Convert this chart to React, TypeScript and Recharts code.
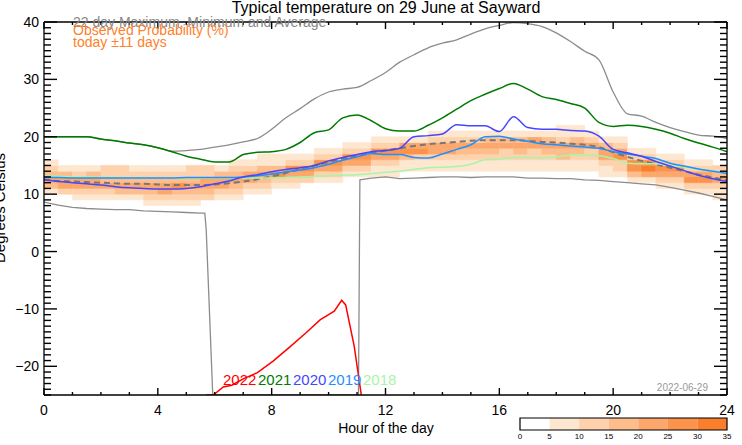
import { ComposedChart, Line, XAxis, YAxis, ReferenceArea } from "recharts"

// half-hour grid shared by most series
const hours = [
  0, 0.5, 1, 1.5, 2, 2.5, 3, 3.5, 4, 4.5, 5, 5.5, 6, 6.5, 7, 7.5, 8, 8.5, 9, 9.5, 10, 10.5, 11, 11.5,
  12, 12.5, 13, 13.5, 14, 14.5, 15, 15.5, 16, 16.5, 17, 17.5, 18, 18.5, 19, 19.5, 20, 20.5, 21, 21.5,
  22, 22.5, 23, 23.5, 24,
]

const maxTemp = [
  20.0, 20.0, 20.0, 20.0, 19.6, 19.3, 18.9, 18.6, 18.1, 17.5, 17.6, 17.8, 18.2, 18.6, 19.1, 19.7, 21.3,
  23.3, 24.9, 26.6, 27.8, 28.3, 28.6, 29.8, 31.2, 33.0, 34.3, 35.5, 36.3, 36.9, 37.9, 38.8, 39.4, 39.9,
  39.7, 39.2, 38.1, 36.6, 34.9, 33.4, 27.8, 24.0, 23.6, 22.5, 21.6, 20.9, 20.3, 20.1, 19.7,
]

const avgTemp = [
  12.5, 12.3, 12.2, 12.1, 12.0, 11.9, 11.8, 11.8, 11.7, 11.6, 11.6, 11.6, 11.7, 11.9, 12.2, 12.6, 13.1,
  13.7, 14.4, 15.0, 15.6, 16.2, 16.7, 17.2, 17.6, 18.0, 18.4, 18.7, 18.9, 19.1, 19.3, 19.4, 19.4, 19.4,
  19.3, 19.1, 19.0, 18.8, 18.6, 18.2, 17.3, 16.5, 15.8, 15.2, 14.6, 14.0, 13.4, 12.9, 12.4,
]

const temp2021 = [
  20.0, 20.0, 20.0, 20.0, 19.6, 19.3, 18.9, 18.6, 18.1, 17.4, 16.6, 16.1, 15.6, 15.6, 16.9, 17.3, 17.4,
  17.8, 19.0, 20.7, 21.2, 23.3, 23.8, 22.8, 21.4, 21.0, 21.0, 22.0, 23.3, 24.8, 26.3, 27.4, 28.4, 29.3,
  28.3, 27.0, 26.5, 25.8, 25.0, 22.5, 21.8, 22.0, 21.8, 21.3, 20.6, 19.7, 18.9, 18.2, 17.4,
]

const temp2020 = [
  12.5, 12.2, 12.0, 11.8, 11.6, 11.3, 11.1, 11.0, 10.9, 10.9, 11.0, 11.3, 11.8, 12.3, 13.0, 13.4, 13.9,
  14.3, 14.6, 15.0, 15.8, 16.4, 16.9, 17.4, 17.6, 18.0, 20.0, 20.2, 20.5, 22.1, 21.9, 21.9, 20.9, 23.5,
  21.6, 21.3, 21.3, 21.1, 21.0, 20.1, 17.8, 17.2, 16.6, 15.7, 14.9, 14.1, 13.3, 12.7, 12.2,
]

const temp2019 = [
  12.9, 12.9, 12.8, 12.8, 12.8, 12.8, 12.8, 12.8, 12.8, 12.8, 12.9, 12.9, 12.9, 12.9, 13.0, 13.2, 13.5,
  13.9, 14.2, 14.6, 15.2, 15.9, 16.5, 17.1, 16.9, 16.9, 16.4, 16.3, 17.0, 17.8, 18.6, 20.0, 20.1, 19.6,
  19.2, 18.8, 18.6, 18.4, 18.2, 18.0, 17.4, 17.0, 16.6, 16.2, 15.4, 14.9, 14.4, 14.0, 13.6,
]

const temp2018 = [
  13.2, 13.1, 13.0, 13.0, 12.9, 12.9, 12.8, 12.8, 12.8, 12.8, 12.8, 12.8, 12.8, 12.8, 12.8, 12.8, 12.8,
  12.9, 13.0, 13.1, 13.2, 13.3, 13.4, 13.6, 13.8, 14.0, 14.3, 14.6, 14.7, 14.8, 15.2, 16.0, 16.1, 16.4,
  16.4, 16.3, 16.5, 16.8, 16.8, 16.7, 16.2, 15.4, 15.3, 15.3, 15.0, 14.7, 14.4, 14.1, 13.5,
]

// the minimum has a gap of bad readings that runs off the bottom of the axis
const minHours = [
  0, 0.5, 1, 1.5, 2, 2.5, 3, 3.5, 4, 4.5, 5, 5.5, 5.65, 5.7, 5.93, 11.05, 11.1, 11.5, 12, 12.5, 13, 13.5,
  14, 14.5, 15, 15.5, 16, 16.5, 17, 17.5, 18, 18.5, 19, 19.5, 20, 20.5, 21, 21.5, 22, 22.5, 23, 23.5, 24,
]
const minTemp = [
  8.6, 8.1, 7.7, 7.5, 7.4, 7.3, 7.3, 7.1, 7.0, 6.9, 6.8, 6.7, 6.7, 3.8, -25, -25, 12.5, 12.8, 13.0, 12.7,
  12.8, 12.9, 13.0, 13.0, 12.9, 13.0, 13.0, 13.0, 12.8, 12.8, 12.7, 12.7, 12.5, 12.4, 12.2, 12.0, 11.8,
  11.6, 11.2, 10.7, 10.2, 9.6, 9.0,
]

const hours2022 = [5.7, 5.95, 6.3, 6.6, 7.0, 7.5, 8.05, 8.6, 9.2, 9.7, 10.2, 10.46, 10.6, 10.9, 11.15]
const temp2022 = [-25, -25, -23.6, -23.3, -22.2, -21.1, -19.1, -16.8, -14.2, -11.9, -10.4, -8.5, -9.3, -16.5, -25]

// observed probability, one column per half hour, 1 degree bins counted up from probBase
const probBase = [
  10, 10, 9, 9, 9, 9, 9, 8, 8, 8, 8, 9, 9, 9, 10, 10, 11, 11, 12, 12, 12, 13, 13, 13, 13, 14, 14, 14, 14, 14,
  14, 14, 14, 14, 14, 14, 14, 14, 14, 13, 13, 12, 12, 11, 11, 10, 10, 9,
]
const probLevels = [
  [1, 3, 4, 3, 2, 1], [2, 4, 4, 3, 1], [1, 2, 4, 4, 2, 1], [1, 2, 4, 4, 3, 1], [1, 2, 4, 3, 2, 2],
  [1, 3, 4, 3, 2, 2], [1, 3, 4, 3, 2, 1], [1, 2, 3, 4, 3, 2, 1], [1, 2, 4, 4, 3, 2, 1], [1, 2, 3, 5, 3, 2, 1],
  [1, 2, 3, 4, 3, 2, 2], [2, 3, 4, 4, 2, 2], [1, 2, 4, 4, 3, 1], [1, 2, 3, 4, 3, 2, 1], [1, 2, 4, 4, 2, 1],
  [1, 2, 3, 4, 3, 1, 1], [1, 2, 5, 3, 1, 1], [1, 2, 4, 5, 2, 1], [2, 4, 5, 2, 1], [1, 2, 4, 5, 2, 1],
  [1, 2, 4, 5, 2, 1], [1, 2, 4, 5, 2, 1], [1, 2, 4, 5, 2, 1], [1, 1, 2, 4, 5, 2, 1], [1, 1, 2, 4, 5, 2, 1],
  [1, 1, 3, 5, 4, 1], [1, 1, 2, 5, 4, 1], [1, 1, 2, 4, 4, 2, 1], [1, 1, 2, 4, 4, 2, 1], [1, 1, 2, 3, 4, 2, 1],
  [1, 1, 2, 3, 4, 2, 1], [1, 1, 2, 3, 4, 3, 1], [1, 1, 2, 2, 4, 3, 1], [1, 1, 2, 3, 4, 3, 1], [1, 1, 2, 2, 4, 4, 1],
  [1, 1, 2, 3, 4, 3, 1], [1, 1, 3, 3, 4, 2, 1, 1], [1, 1, 2, 3, 4, 3, 1, 1], [1, 1, 2, 2, 4, 2, 1], [1, 1, 2, 4, 4, 3, 1],
  [1, 2, 2, 5, 4, 2, 1], [1, 3, 5, 5, 2, 1], [1, 4, 6, 5, 2, 1], [1, 2, 4, 5, 2, 1], [1, 2, 4, 5, 2, 1],
  [1, 2, 5, 4, 2, 1], [1, 2, 5, 4, 2, 1], [1, 1, 2, 4, 3, 2],
]
const probColWidth = 0.5

const levelEdges = [0, 5, 10, 15, 20, 25, 30, 35]
const levelColors = ["#ffffff", "#fee7d0", "#fdd2ad", "#fdbd8c", "#fca76b", "#fb934b", "#fa7e2c"]

const years = ["2022", "2021", "2020", "2019", "2018"]
const yearColors = ["#ff0000", "#007a00", "#4646ff", "#1e90ff", "#a8f5a8"]

const hourTicks = Array.from({ length: 25 }, (_, i) => i)
const hourLabels = [0, 4, 8, 12, 16, 20, 24]
const tempTicks = Array.from({ length: 66 }, (_, i) => i - 25)
const tempLabels = [-20, -10, 0, 10, 20, 30, 40]

const rows = hours.map((h, i) => ({
  h,
  max: maxTemp[i],
  avg: avgTemp[i],
  y2021: temp2021[i],
  y2020: temp2020[i],
  y2019: temp2019[i],
  y2018: temp2018[i],
}))
const minRows = minHours.map((h, i) => ({ h, min: minTemp[i] }))
const rows2022 = hours2022.map((h, i) => ({ h, y2022: temp2022[i] }))

const font = '"Liberation Sans", Arial, Helvetica, sans-serif'
const fmt = (v: number) => (v < 0 ? `\u2212${-v}` : `${v}`)
const axisLineStyle = { stroke: "#000", strokeWidth: 1.3 }
const TICK_W = 1.4

// ticks point into the frame; with tickSize 0 the tick x/y sits on the axis line
const BottomTick = (props: any) => {
  const { x, y, payload } = props
  const major = hourLabels.includes(payload.value)
  return (
    <g>
      <line x1={x} x2={x} y1={y} y2={y - (major ? 7 : 3)} stroke="#000" strokeWidth={TICK_W} />
      {major && (
        <text x={x} y={y + 20} textAnchor="middle" fontSize={14} fill="#000" fontFamily={font}>
          {payload.value}
        </text>
      )}
    </g>
  )
}

const TopTick = (props: any) => {
  const { x, y, payload } = props
  const major = hourLabels.includes(payload.value)
  return <line x1={x} x2={x} y1={y} y2={y + (major ? 7 : 3)} stroke="#000" strokeWidth={TICK_W} />
}

const LeftTick = (props: any) => {
  const { x, y, payload } = props
  const major = tempLabels.includes(payload.value)
  return (
    <g>
      <line x1={x} x2={x + (major ? 13 : 7)} y1={y} y2={y} stroke="#000" strokeWidth={TICK_W} />
      {major && (
        <text x={x - 5} y={y + 5} textAnchor="end" fontSize={14} fill="#000" fontFamily={font}>
          {fmt(payload.value)}
        </text>
      )}
    </g>
  )
}

const RightTick = (props: any) => {
  const { x, y, payload } = props
  const major = tempLabels.includes(payload.value)
  return <line x1={x} x2={x - (major ? 13 : 7)} y1={y} y2={y} stroke="#000" strokeWidth={TICK_W} />
}

const BarTick = (props: any) => {
  const { x, y, payload } = props
  return (
    <text x={x} y={y + 9} textAnchor="middle" fontSize={8} fill="#000" fontFamily={font}>
      {payload.value}
    </text>
  )
}

export default function App() {
  const xCommon = {
    dataKey: "h",
    type: "number" as const,
    domain: [0, 24],
    allowDataOverflow: true,
    ticks: hourTicks,
    interval: 0 as const,
    height: 1,
    tickSize: 0,
    tickMargin: 0,
    tickLine: false,
    axisLine: axisLineStyle,
  }
  const yCommon = {
    type: "number" as const,
    domain: [-25, 40],
    allowDataOverflow: true,
    ticks: tempTicks,
    interval: 0 as const,
    width: 1,
    tickSize: 0,
    tickMargin: 0,
    tickLine: false,
    axisLine: axisLineStyle,
  }
  return (
    <div style={{ position: "absolute", left: 0, top: 0, width: 742, height: 445, background: "#fff", fontFamily: font }}>
      <div style={{ position: "absolute", left: 0, top: 0 }}>
        <ComposedChart width={742} height={445} data={rows} margin={{ top: 21, right: 14, bottom: 49, left: 43 }}>
          <XAxis {...xCommon} tick={BottomTick} />
          <XAxis {...xCommon} xAxisId="top" orientation="top" tick={TopTick} />
          <YAxis {...yCommon} tick={LeftTick} />
          <YAxis {...yCommon} yAxisId="right" orientation="right" tick={RightTick} />
          {probLevels.flatMap((col, i) =>
            col.map((lv, j) => (
              <ReferenceArea
                key={`p${i}-${j}`}
                x1={i * probColWidth}
                x2={(i + 1) * probColWidth}
                y1={probBase[i] + j}
                y2={probBase[i] + j + 1}
                fill={levelColors[lv]}
                fillOpacity={1}
                stroke={levelColors[lv]}
                strokeWidth={0.6}
              />
            ))
          )}
          <Line dataKey="max" type="monotone" stroke="#8c8c8c" strokeWidth={1.3} dot={false} isAnimationActive={false} />
          <Line data={minRows} dataKey="min" type="linear" stroke="#8c8c8c" strokeWidth={1.3} dot={false} isAnimationActive={false} />
          <Line dataKey="avg" type="monotone" stroke="#777" strokeWidth={2} strokeDasharray="6 4" dot={false} isAnimationActive={false} />
          <Line dataKey="y2018" type="monotone" stroke={yearColors[4]} strokeWidth={1.5} dot={false} isAnimationActive={false} />
          <Line dataKey="y2019" type="monotone" stroke={yearColors[3]} strokeWidth={1.5} dot={false} isAnimationActive={false} />
          <Line dataKey="y2020" type="monotone" stroke={yearColors[2]} strokeWidth={1.5} dot={false} isAnimationActive={false} />
          <Line dataKey="y2021" type="monotone" stroke={yearColors[1]} strokeWidth={1.5} dot={false} isAnimationActive={false} />
          <Line data={rows2022} dataKey="y2022" type="linear" stroke={yearColors[0]} strokeWidth={1.5} dot={false} isAnimationActive={false} />
        </ComposedChart>
      </div>

      <div style={{ position: "absolute", left: 512, top: 414 }}>
        <ComposedChart
          width={222}
          height={30}
          data={[{ v: levelEdges[0], y: 0 }, { v: levelEdges[levelEdges.length - 1], y: 1 }]}
          margin={{ top: 4, right: 7, bottom: 13, left: 8 }}
        >
          <XAxis
            dataKey="v"
            type="number"
            domain={[0, 35]}
            allowDataOverflow
            ticks={levelEdges}
            interval={0}
            height={1}
            tickSize={0}
            tickMargin={0}
            tickLine={false}
            axisLine={false}
            tick={BarTick}
          />
          <YAxis type="number" domain={[0, 1]} allowDataOverflow hide />
          <Line dataKey="y" stroke="none" dot={false} isAnimationActive={false} />
          {levelEdges.slice(0, -1).map((lo, i) => (
            <ReferenceArea
              key={`c${i}`}
              x1={lo}
              x2={levelEdges[i + 1]}
              y1={0}
              y2={1}
              fill={levelColors[i]}
              fillOpacity={1}
              stroke="none"
              ifOverflow="visible"
            />
          ))}
          <ReferenceArea x1={0} x2={35} y1={0} y2={1} fill="none" stroke="#000" strokeWidth={1.2} ifOverflow="visible" />
        </ComposedChart>
      </div>

      <svg width={742} height={445} style={{ position: "absolute", left: 0, top: 0, pointerEvents: "none" }} fontFamily={font}>
        <text x={386} y={13} textAnchor="middle" fontSize={16} fill="#000">
          Typical temperature on 29 June at Sayward
        </text>
        <text x={73} y={27} fontSize={14} fill="#888">
          22 day Maximum, Minimum and Average
        </text>
        <text x={73} y={35} fontSize={14} fill="#ff7f2a">
          Observed Probability (%)
        </text>
        <text x={73} y={47} fontSize={14} fill="#ff7f2a">
          today ±11 days
        </text>
        <text x={5} y={208} fontSize={15} fill="#000" textAnchor="middle" transform="rotate(-90 5 208)">
          Degrees Celsius
        </text>
        <text x={386} y={433} fontSize={14} fill="#000" textAnchor="middle">
          Hour of the day
        </text>
        <text x={708} y={391} fontSize={10} fill="#999" textAnchor="end">
          2022-06-29
        </text>
        {years.map((yr, i) => (
          <text key={yr} x={223 + i * 35} y={385} fontSize={15} fill={yearColors[i]}>
            {yr}
          </text>
        ))}
      </svg>
    </div>
  )
}
